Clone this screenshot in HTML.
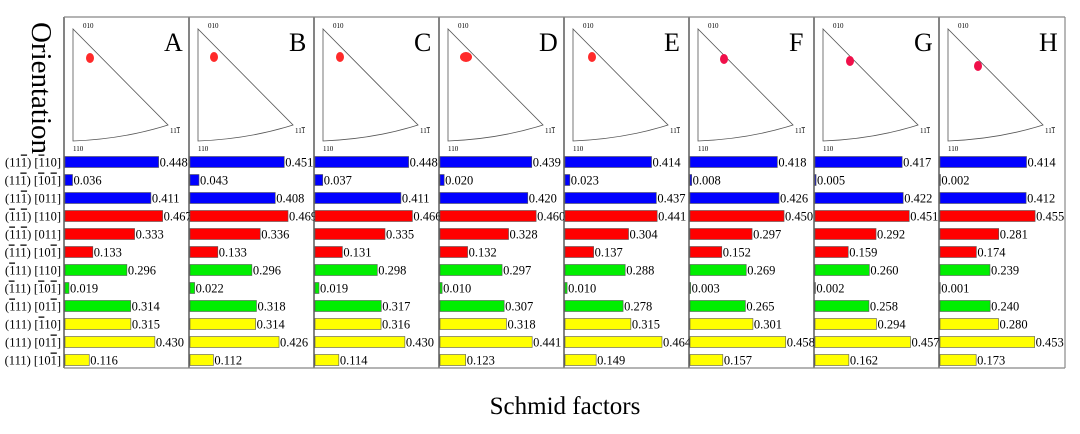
<!DOCTYPE html>
<html><head><meta charset="utf-8"><style>
body{margin:0;background:#fff;}
svg{display:block;font-family:"Liberation Serif",serif;}
</style></head><body>
<svg id="c" width="1080" height="434"></svg>
<script>
const panels=["A","B","C","D","E","F","G","H"];
// '-' marks the next digit as overlined (bar notation)
const systems=["(11-1) [-110]","(11-1) [-10-1]","(11-1) [011]","(-11-1) [110]","(-11-1) [011]","(-11-1) [10-1]","(-111) [110]","(-111) [-10-1]","(-111) [01-1]","(111) [-110]","(111) [01-1]","(111) [10-1]"];
const colors=["#0000ff","#0000ff","#0000ff","#ff0000","#ff0000","#ff0000","#00ee00","#00ee00","#00ee00","#ffff00","#ffff00","#ffff00"];
const valuesA=[0.448,0.036,0.411,0.467,0.333,0.133,0.296,0.019,0.314,0.315,0.430,0.116];
const valuesB=[0.451,0.043,0.408,0.469,0.336,0.133,0.296,0.022,0.318,0.314,0.426,0.112];
const valuesC=[0.448,0.037,0.411,0.466,0.335,0.131,0.298,0.019,0.317,0.316,0.430,0.114];
const valuesD=[0.439,0.020,0.420,0.460,0.328,0.132,0.297,0.010,0.307,0.318,0.441,0.123];
const valuesE=[0.414,0.023,0.437,0.441,0.304,0.137,0.288,0.010,0.278,0.315,0.464,0.149];
const valuesF=[0.418,0.008,0.426,0.450,0.297,0.152,0.269,0.003,0.265,0.301,0.458,0.157];
const valuesG=[0.417,0.005,0.422,0.451,0.292,0.159,0.260,0.002,0.258,0.294,0.457,0.162];
const valuesH=[0.414,0.002,0.412,0.455,0.281,0.174,0.239,0.001,0.240,0.280,0.453,0.173];
const allValues=[valuesA,valuesB,valuesC,valuesD,valuesE,valuesF,valuesG,valuesH];
const spotX=[26,25,26,27,28,35,36,39];
const spotY=[58,57,57,57,57,59,61,66];

const NS="http://www.w3.org/2000/svg";
const svg=document.getElementById("c");
function mk(t,a,p){const e=document.createElementNS(NS,t);for(const k in a)e.setAttribute(k,a[k]);(p||svg).appendChild(e);return e;}
function barText(el,s){
  let over=false;
  for(const ch of s){
    if(ch==='-'){over=true;continue;}
    const ts=mk("tspan",{},el);
    if(over){ts.setAttribute("text-decoration","overline");over=false;}
    ts.textContent=ch;
  }
}
const X0=64,PW=125,TOP=17,BOT=368,SCALE=209;
function px(i){return X0+i*PW;}
function xs(v){return v*SCALE;}
function ys(r){return 162+r*18;}

let t=mk("text",{x:32,y:88,"font-size":29,"text-anchor":"middle",transform:"rotate(90 32 88)"});


t.textContent="Orientation";
t=mk("text",{x:565,y:414,"font-size":25,"text-anchor":"middle"});


t.textContent="Schmid factors";

systems.forEach((s,r)=>{
  const l=mk("text",{x:61,y:ys(r)+4.5,"font-size":12.5,"text-anchor":"end"});
  
  
  barText(l,s);
});

panels.forEach((p,i)=>{
  const x=px(i);
  const g=mk("g",{});
  
  
  mk("line",{x1:x,y1:TOP,x2:x,y2:BOT,stroke:"#333","stroke-width":1.2},g);
  mk("path",{d:`M${x+9} 29 L${x+9} 141 Q${x+60} 139 ${x+104} 125 Z`,fill:"none",stroke:"#555","stroke-width":0.8},g);
  mk("text",{x:x+19,y:28,"font-size":7},g).textContent="010";
  mk("text",{x:x+9,y:151,"font-size":7},g).textContent="110";
  const lb=mk("text",{x:x+106,y:133,"font-size":7},g);
  barText(lb,"11-1");
  const L=mk("text",{x:x+100,y:51,"font-size":26},g);
  
  
  L.textContent=p;
  const sp=mk("ellipse",{cx:x+spotX[i],cy:spotY[i],rx:i==3?6:4,ry:5,fill:i>=5?"#f0104a":"#ff2a2a"},g);
  
  
  allValues[i].forEach((v,r)=>{
    const w=xs(v);
    const b=mk("rect",{x:x+1,y:ys(r)-5.5,width:Math.max(w,0.1),height:11,fill:colors[r],stroke:"#555","stroke-width":0.6},g);
    
    
    const tv=mk("text",{x:x+1+w+1,y:ys(r)+4.5,"font-size":12.5},g);
    
    
    tv.textContent=v.toFixed(3);
  });
});
mk("line",{x1:1065,y1:TOP,x2:1065,y2:BOT,stroke:"#888","stroke-width":1.2});
mk("line",{x1:X0,y1:TOP,x2:1065,y2:TOP,stroke:"#888","stroke-width":1.2});
mk("line",{x1:X0,y1:BOT,x2:1065,y2:BOT,stroke:"#888","stroke-width":1.2});
</script>
</body></html>
